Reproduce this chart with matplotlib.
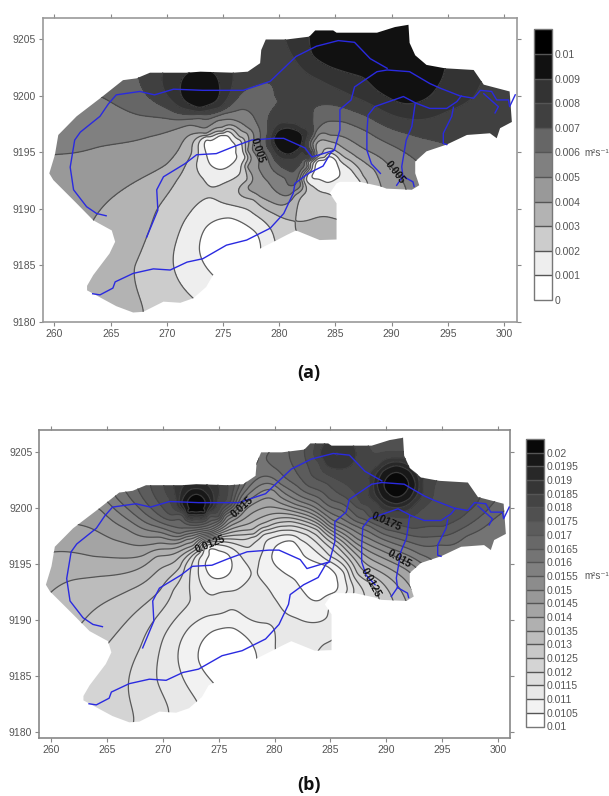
import matplotlib
matplotlib.use("Agg")
import matplotlib.pyplot as plt
from matplotlib.patches import Polygon
from matplotlib.colors import ListedColormap, BoundaryNorm
import numpy as np

plt.rcParams['font.family'] = ['Liberation Sans', 'DejaVu Sans']

# ---------- shared geography (km grid) ----------
BASIN = [(259.54,9193.15),(260.04,9194.8),(260.34,9196.55),(261.97,9198.2),(264.2,9199.9),(266.1,9201.4),
 (267.3,9201.56),(268.5,9202.06),(271.76,9202.06),(273,9202.15),(275.9,9202.06),(277.2,9202.15),(278.3,9202.9),
 (278.4,9204.07),(278.8,9205),(280.65,9205),(282.67,9205.25),(283.2,9205.8),(284.8,9205.8),(285.1,9205.6),
 (288.7,9205.6),(290.3,9206.1),(291.5,9206.3),(291.6,9204.7),(292.1,9203.6),(293.1,9202.75),(294.75,9202.45),
 (297.3,9202.3),(298.2,9201),(300.5,9200.4),(300.7,9197.7),(299.65,9197.15),(299.35,9196.26),(298.75,9196.7),
 (296.7,9196.55),(294.9,9195.7),(293.1,9195.1),(292.1,9194.2),(292.1,9193.16),(292.46,9192.1),(291.8,9191.7),
 (289.55,9191.8),(289,9192),(287.2,9192.4),(285.4,9192.4),(285.1,9192.27),(284.5,9191.4),(285.1,9190.5),
 (285.1,9187.3),(283.6,9187.25),(281.5,9188.1),(280.67,9187.7),(279.8,9187.25),(278.3,9186.5),(275.9,9185),
 (274.1,9184.15),(273.5,9183.1),(272.35,9182.1),(271.2,9181.7),(269.7,9181.8),(267.9,9180.9),(267,9180.84),
 (265.5,9181.4),(262.9,9182.8),(262.9,9183.2),(263.45,9184.15),(264.9,9186.06),(265.4,9187.1),(265.1,9188.1),
 (263.45,9189),(261.97,9190.5),(259.9,9192.56)]

RIVER_MAIN = [(263.4,9182.5),(264.05,9182.4),(265.2,9183),(265.4,9183.55),(267,9184.3),(268.8,9184.7),(270.3,9184.6),
 (271.8,9185.3),(273.2,9185.6),(275.3,9186.8),(277.1,9187.25),(279.2,9188.3),(280.4,9189.6),(281.25,9191.4),
 (281.4,9192.27),(282.6,9193.15),(283.9,9193.8),(284.6,9195),(284.9,9195.2),(285.4,9197),(285.4,9198.8),
 (286.4,9199.65),(286.7,9200.8),(288.7,9202.15),(289.6,9202.3),(291.6,9202.15),(293.4,9201.1),(294.3,9200.7),
 (296.1,9200),(297.3,9199.8),(297.9,9200.5),(298.9,9200.4),(299.35,9199.65),(300.4,9199.65),(300.5,9199.06),
 (301,9200.1)]
RIVER_WEST = [(284.9,9195.2),(283.9,9194.9),(282.9,9194.6),(282.3,9195.4),(280.4,9196.25),(279.5,9196.25),
 (277.55,9196.1),(275.9,9195.5),(274.4,9194.9),(272.65,9194.8),(271.6,9194),(269.7,9192.85),(269.1,9191.7),
 (269.2,9189.9),(268.2,9187.5)]
RIVER_NORTH = [(264.6,9189.4),(263.75,9189.6),(262.86,9190.2),(261.7,9191.7),(261.4,9193.7),(261.8,9196.1),
 (262.3,9196.8),(264.05,9198.2),(264.8,9199.3),(265.5,9200.1),(267.6,9200.4),(268.9,9200.1),(270.6,9200.6),
 (273.2,9200.5),(276.8,9200.5),(279.2,9201.3),(281.5,9203.5),(283.3,9204.4),(285.25,9204.9),(286.7,9204.75),
 (288.1,9203.3),(289.6,9202.45)]
RIVER_S1 = [(289,9193.15),(288.2,9194),(287.8,9195.2),(287.8,9196.7),(287.9,9198.3),(288.5,9199.06),(291.05,9199.95),
 (292.2,9199.35),(293.4,9198.9),(294.9,9198.9),(295.8,9199.5),(296.2,9200)]
RIVER_S2 = [(292.1,9199.35),(291.8,9197.3),(291.3,9196.1),(290.9,9193.75),(291,9192.9),(290.45,9192.1)]
RIVER_S3 = [(291,9192.9),(291.9,9192.4),(292,9192)]
RIVER_S4 = [(295.5,9199),(295.35,9198.2),(294.6,9196.7),(294.6,9195.8),(294.9,9195.7)]
RIVER_S5 = [(298.2,9200.2),(299.5,9199.05),(299.2,9198.5)]
RIVERS = [RIVER_MAIN,RIVER_WEST,RIVER_NORTH,RIVER_S1,RIVER_S2,RIVER_S3,RIVER_S4,RIVER_S5]

X_TICKS = [260,265,270,275,280,285,290,295,300]
Y_TICKS = [9180,9185,9190,9195,9200,9205]

# ---------- panel (a): contours ----------
A_LEVELS = [0,.001,.002,.003,.004,.005,.006,.007,.008,.009,.01,.011]
A_TICKS = [0,.001,.002,.003,.004,.005,.006,.007,.008,.009,.01]
A_TICKLABELS = ['0','0.001','0.002','0.003','0.004','0.005','0.006','0.007','0.008','0.009','0.01']
A_COLORS = ['#ffffff','#eeeeee','#cccccc','#b3b3b3','#999999','#808080','#666666','#404040','#333333','#111111','#000000']

A_009_NE = [(282.67,9205.25),(283,9203.6),(284.5,9202.6),(287.5,9201.6),(288.7,9200.5),(291,9199.35),(292.5,9199.5),(294,9200.7),(294.75,9202.45),(295,9204)]
A_009_W = [(271.2,9200.7),(271.7,9199.5),(273,9199),(274.3,9199.5),(274.7,9200.7),(274.3,9201.9),(273,9202.4),(271.7,9201.9)]
A_009_C = [(280.8,9197.15),(279.85,9196.85),(279.5,9196.1),(279.85,9195.35),(280.8,9194.85),(281.75,9195.35),(282.05,9196.1),(281.75,9196.85)]
A_008_N = [(280.5,9205.1),(281.54,9203),(283.6,9201.4),(286.6,9199.95),(289.6,9198.5),(292.5,9197.9),(294.9,9198.6),(297.3,9199.95),(298.5,9202)]
A_008_W = [(269.6,9201.9),(270,9200.1),(271.2,9199),(272.9,9198.6),(274.7,9199),(275.6,9200.2),(275.9,9202),(273,9203.6)]
A_008_C = [(280.8,9197.6),(279.6,9197.2),(279.2,9196.1),(279.6,9195),(280.8,9194.4),(282,9195),(282.4,9196.1),(282,9197.2)]
A_007 = [(267.5,9201.6),(268.2,9200.1),(270,9198.9),(272.9,9198.4),(275.3,9198.95),(276.5,9200.1),(278,9201),(279.2,9201.1),
 (279.6,9200.1),(279.2,9198.5),(279,9197.9),(278.95,9196.7),(279.3,9194.9),(280.4,9193.6),(281.4,9193.45),(282.6,9194.5),
 (282.9,9194.9),(283,9196.7),(283,9198.2),(283.3,9199.07),(285.4,9199.07),(287.8,9198.2),(291.3,9196.7),(294.9,9195.7),(296.5,9194)]
A_006 = [(264.2,9199.9),(267.6,9198.3),(270,9198),(272.9,9198.0),(275,9198.4),(276.6,9198.8),(277.7,9198.2),(278.3,9196.8),
 (278.7,9195),(279.4,9193.5),(280.5,9192.7),(281.7,9192.9),(282.6,9194.2),(282.9,9195.3),(283.2,9196.7),(284.2,9197.7),
 (285.7,9197.7),(287.8,9196.85),(290.3,9195.5),(292.2,9194.25),(293.5,9192)]
A_005 = [(260,9194.8),(264,9195.5),(268.5,9196.4),(272,9197.4),(274.5,9197.8),(276.2,9197.8),(277.2,9197.2),(277.7,9195.9),
 (278.2,9194.2),(279,9192.4),(280.1,9191.3),(281,9191.3),(281.9,9192.2),(282.5,9193.8),(283,9195.8),(284.5,9196.55),
 (286,9196.26),(287.8,9195.2),(289.6,9194.05),(291.2,9192),(291.5,9190)]
A_004 = [(263.45,9189),(264.9,9190.8),(270,9194),(272.6,9196.7),(275.3,9197.4),(277.1,9196.7),(277.2,9195.2),(277.2,9193.7),
 (277.25,9192),(278.3,9191.1),(280.07,9190.35),(281.4,9191.2),(282,9192.6),(282.6,9194.2),(283.3,9195.2),(285.1,9195.8),
 (286.9,9194.6),(288.4,9193.5),(289.1,9191.8),(289,9190)]
A_003_W = [(267.9,9180.9),(267.15,9184.9),(269.1,9189.9),(270.9,9192.56),(272.2,9195),(273.5,9196.5),(275,9196.9),(276.5,9196.4),
 (277,9195.3),(277,9193.5),(277.1,9192.56),(277.7,9190.8),(279.5,9189.6),(281.5,9188.1),(283,9186.5)]
A_003_E = [(282.1,9191.2),(283.6,9189.3),(285.1,9189.1)]
A_003_E2 = [(283.8,9194.9),(285.1,9195.1),(286.3,9194.3),(287.5,9192.9),(287.9,9192),(287.5,9190)]
A_002_S = [(272.35,9182.1),(270.6,9186.06),(272,9189.6),(274.4,9190.8),(277.7,9189.6),(279.6,9187.25),(278,9184),(275,9181)]
A_002_W = [(272.65,9194),(273.2,9192.7),(274.7,9192.1),(276.2,9192.85),(276.95,9194.6),(276.5,9196.1),(275.3,9196.85),(273.5,9196.4),(272.8,9195.2)]
A_002_E = [(284.07,9194.6),(285.4,9194.3),(286.4,9193.45),(287.2,9192.4),(287,9191.5),(285.5,9191),(284.2,9191.4),(283,9192),(282.6,9193.15)]
A_001_S = [(274.1,9184.15),(272.9,9186.4),(273.5,9188.4),(275.6,9189.2),(278,9187.8),(278.3,9186.2),(277,9184.5),(275,9183.5)]
A_001_W = [(274.8,9196.5),(273.85,9196.05),(273.47,9195),(273.85,9193.95),(274.8,9193.5),(275.75,9193.95),(276.13,9195),(275.75,9196.05)]
A_001_E = [(284.25,9194.55),(283.45,9194.25),(283.15,9193.45),(283.45,9192.65),(284.25,9192.35),(285.05,9192.65),(285.35,9193.45),(285.05,9194.25)]

A_TRACES = [(.009,A_009_NE),(.009,A_009_W),(.009,A_009_C),(.008,A_008_N),(.008,A_008_W),(.008,A_008_C),(.007,A_007),
 (.006,A_006),(.005,A_005),(.004,A_004),(.003,A_003_W),(.003,A_003_E),(.003,A_003_E2),(.002,A_002_S),(.002,A_002_W),
 (.002,A_002_E),(.001,A_001_S),(.001,A_001_W),(.001,A_001_E)]
A_SPOTS = [(288,9204.5,.0097),(287,9203.4,.0096),(291,9201,.0097),(293,9201,.0095),(273,9200.7,.0097),(280.8,9196.1,.0098),
 (298.5,9198.5,.0075),(296,9197,.0075),(280,9203,.0075),(277.5,9203.5,.0075),(262,9197,.0055),(262,9192.5,.0045),
 (266,9186,.0035),(270,9188,.0025),(275.2,9191.5,.0025),(284,9188,.0035),(282.3,9192.5,.0025),(274.8,9195,.0005),
 (284.25,9193.45,.0005),(276,9186.5,.0005),(258,9178,.004),(303,9178,.004),(258,9208,.007),(303,9208,.0095),
 (303,9190,.006),(285,9178,.003),(258,9190,.0045),(270,9178,.0025)]
A_NOTES = [('0.005',278.1,9195.2,-72),('0.005',290.3,9193.2,-52)]

# ---------- panel (b) ----------
B_LEVELS = [.01,.0105,.011,.0115,.012,.0125,.013,.0135,.014,.0145,.015,.0155,.016,.0165,.017,.0175,.018,.0185,.019,.0195,.02,.0205]
B_TICKS = [.01,.0105,.011,.0115,.012,.0125,.013,.0135,.014,.0145,.015,.0155,.016,.0165,.017,.0175,.018,.0185,.019,.0195,.02]
B_TICKLABELS = ['0.01','0.0105','0.011','0.0115','0.012','0.0125','0.013','0.0135','0.014','0.0145','0.015','0.0155','0.016','0.0165','0.017','0.0175','0.018','0.0185','0.019','0.0195','0.02']
B_COLOR_STEPS = [255,242,232,222,212,200,188,176,164,152,140,128,116,104,92,80,68,54,40,24,8]

B_0105_S = [(274.54,9184.34),(273.2,9186.4),(274.5,9189),(276.3,9189.26),(278.4,9186.4),(277,9184),(275.5,9183.5)]
B_0105_W = [(275,9196.2),(274.15,9195.85),(273.8,9194.95),(274.15,9194.05),(275,9193.7),(275.85,9194.05),(276.2,9194.95),(275.85,9195.85)]
B_0105_E = [(279.75,9195.67),(280.5,9196.86),(281.7,9197),(282.6,9195.8),(284.7,9194.8),(285.6,9193.6),(285.4,9192.5),(284.1,9191.8),(282.7,9192.4),(281.8,9193.6),(280.5,9194.5)]
B_011_S = [(273.05,9182.7),(271.56,9185.5),(272.45,9189.4),(276,9190.9),(279.3,9189.7),(280.07,9187.6),(279.5,9185),(276,9182),(273.5,9181)]
B_011_W = [(273.2,9194.8),(274.5,9192.24),(276.6,9192.7),(277.2,9195.4),(275.7,9196.6),(273.8,9196.6)]
B_011_E = [(278.55,9194.8),(279,9196.3),(280.3,9197.5),(282.3,9197.2),(284.1,9195.8),(286.2,9194.2),(286.5,9192.7),(285.1,9191.5),(284.7,9190.3),(282,9190.15),(279.9,9192.1)]
B_0115 = [(270.5,9182),(269.5,9184.64),(270.1,9188.5),(272.45,9191.8),(272.4,9193.4),(273.05,9195.8),(274.5,9197),(277.66,9196.5),(279,9197.6),(280.5,9198),(282.9,9197.6),(285,9195.7),(286.8,9193.6),(287,9192.1),(286,9189),(284.4,9187.8),(283.5,9186)]
B_012 = [(267.4,9181.06),(266.93,9184.34),(268,9187.6),(270.96,9192.69),(272,9194.8),(273.2,9196.2),(275.5,9197.25),(278,9197.4),(279.1,9198),(281,9198.4),(283.4,9197.8),(285.3,9196.2),(287.1,9193.9),(288,9192.4),(288,9190)]
B_0125 = [(265.1,9187.9),(269.77,9192.7),(271.56,9194.8),(273.05,9196.4),(275.74,9197.5),(278.1,9197.7),(279.3,9198.35),(281.4,9198.8),(283.8,9198.06),(285.57,9196.6),(287.4,9194.2),(288.55,9193.3),(289.3,9192.1),(289.5,9190)]
B_013 = [(262.6,9189.56),(267.1,9192.7),(271.26,9195.4),(272.9,9196.57)]
B_0135 = [(259.9,9192.4),(264.4,9193.9),(269.47,9195.67),(272.75,9196.7)]
B_014 = [(260.4,9196.1),(263.8,9195.7),(268.3,9195.8),(272.45,9196.9)]
B_0145 = [(262.6,9198.5),(265.6,9197.2),(269.2,9196.8),(272.15,9197.2)]
B_015 = [(264.4,9199.85),(266.8,9198.1),(269.8,9197.4),(272.45,9197.5),(274.25,9197.9),(276.3,9199.25),(277.1,9200.1),(278.1,9201),(279.9,9201.6),(280.5,9201.04),(282,9200.3),(285,9198.66),(287.35,9197.3),(289.45,9196.27),(291.2,9195.5),(292.4,9194.9),(294,9193)]
B_016 = [(265.9,9200.9),(268.6,9198.66),(271.56,9197.76),(273.05,9198.06),(275.5,9199.3),(277,9201),(278.3,9202.5),(280.5,9202.2),(282.5,9201),(284.5,9199.9),(287.3,9198.4),(290,9197.1),(293,9195.9),(295,9194)]
B_0165 = [(279.6,9205.2),(280.3,9203.4),(282,9202),(284,9200.9),(286,9199.8),(288.5,9198.4),(290,9197.6),(292,9197.0),(294.8,9196.7),(297.2,9197.5),(299.6,9199),(301.5,9200.5)]
B_017 = [(281.3,9205.3),(281.8,9203.5),(283,9202),(285,9200.8),(287.5,9199.2),(290,9198.1),(292.5,9197.5),(295,9197.5),(297,9198.3),(299,9199.8),(300.5,9201.5)]
B_0175_W = [(268.9,9202.1),(269.5,9200.7),(270.8,9199.4),(273,9198.7),(275,9199.3),(276,9200.5),(276.4,9202),(273,9204)]
B_0175_E = [(282.7,9205.5),(283.3,9203),(284.67,9202.2),(286.45,9200.9),(287.95,9199.85),(290,9198.8),(292.4,9198.2),(295.1,9198.4),(296.6,9199.1),(298.1,9200.45),(299,9202.5)]
B_018_E = [(283.6,9205.5),(284,9204),(285,9202.9),(286.9,9201.7),(287.9,9200.4),(289,9199.4),(290.9,9199.2),(292.8,9199.6),(294,9200.7),(294.5,9202.5),(294,9205)]
B_0185_W = [(271,9202.1),(271.2,9200.7),(272,9199.5),(273,9199.2),(274,9199.5),(274.9,9200.7),(275,9202),(273,9203.2)]
B_0185_N = [(284.1,9204.9),(284.6,9203.9),(285.7,9203.5),(286.9,9203.9),(287.3,9204.9),(285.7,9206.4)]
B_0185_E = [(288.5,9202.1),(289.2,9200.4),(290.9,9199.7),(292.6,9200.4),(293.3,9202.1),(292.6,9203.8),(290.9,9204.5),(289.2,9203.8)]
B_0195_W = [(271.7,9200.45),(272.1,9199.55),(273,9199.4),(273.9,9199.55),(274.3,9200.45),(273.9,9201.35),(273,9201.75),(272.1,9201.35)]
B_0195_E = [(289.2,9202.1),(289.7,9200.9),(290.9,9200.4),(292.1,9200.9),(292.6,9202.1),(292.1,9203.3),(290.9,9203.8),(289.7,9203.3)]
B_02_W = [(272.2,9200.45),(272.45,9199.9),(273,9199.65),(273.55,9199.9),(273.8,9200.45),(273.55,9201),(273,9201.25),(272.45,9201)]
B_02_E = [(289.8,9202.1),(290.15,9201.35),(290.9,9201),(291.65,9201.35),(292,9202.1),(291.65,9202.85),(290.9,9203.2),(290.15,9202.85)]

B_TRACES = [(.0105,B_0105_S),(.0105,B_0105_W),(.0105,B_0105_E),(.011,B_011_S),(.011,B_011_W),(.011,B_011_E),(.0115,B_0115),
 (.012,B_012),(.0125,B_0125),(.013,B_013),(.0135,B_0135),(.014,B_014),(.0145,B_0145),(.015,B_015),(.016,B_016),(.0165,B_0165),
 (.017,B_017),(.0175,B_0175_W),(.0175,B_0175_E),(.018,B_018_E),(.0185,B_0185_W),(.0185,B_0185_N),(.0185,B_0185_E),
 (.0195,B_0195_W),(.0195,B_0195_E),(.02,B_02_W),(.02,B_02_E)]
B_SPOTS = [(273,9200.45,.0203),(290.9,9202.1,.0203),(285.7,9204.8,.019),(275,9194.95,.0102),(281.5,9195.5,.0102),(284.3,9193.3,.0102),
 (275.5,9186.5,.0102),(275.2,9191.6,.0113),(263.5,9183.5,.01235),(265,9185.5,.0123),(262,9193,.0134),(278.2,9191,.0113),(280,9204,.0166),
 (258,9178,.013),(303,9178,.014),(258,9208,.016),(303,9208,.018),(303,9190,.016),(285,9178,.0115),(258,9190,.0135),(270,9178,.0115)]
B_NOTES = [('0.0125',274.2,9196.8,22),('0.015',277.1,9200.1,42),('0.0175',290,9198.8,-24),('0.015',291.2,9195.5,-30),('0.0125',288.6,9193.3,-62)]


def samples(traces, spots):
    seen = {}
    for level, pts in traces:
        for x, y in pts:
            seen[(x, y)] = level
    for x, y, v in spots:
        seen[(x, y)] = v
    pts = np.array(list(seen.keys()))
    return pts[:, 0], pts[:, 1], np.array(list(seen.values()))


def surface(x, y, z, gx, gy, smooth):
    y0 = y - 9190.0
    gy0 = gy - 9190.0
    x0 = x - 280.0
    gx0 = gx - 280.0
    n = len(x)
    r2 = (x0[:, None] - x0[None, :]) ** 2 + (y0[:, None] - y0[None, :]) ** 2
    K = 0.5 * r2 * np.log(np.where(r2 > 0, r2, 1.0))
    P = np.column_stack([np.ones(n), x0, y0])
    A = np.block([[K + smooth * np.eye(n), P], [P.T, np.zeros((3, 3))]])
    sol = np.linalg.solve(A, np.concatenate([z, np.zeros(3)]))
    w, a = sol[:n], sol[n:]
    out = np.empty((gy.size, gx.size))
    for i, v in enumerate(gy0):
        d2 = (gx0[:, None] - x0[None, :]) ** 2 + (v - y0[None, :]) ** 2
        out[i] = (0.5 * d2 * np.log(np.where(d2 > 0, d2, 1.0))) @ w + a[0] + a[1] * gx0 + a[2] * v
    return out


def panel(fig, box, xlim, ylim, traces, spots, levels, colors, notes, cbox, ticks, ticklabels, unit_xy, frame, smooth):
    W, H = 609, 796
    l, t, r, b = box
    ax = fig.add_axes([l / W, 1 - b / H, (r - l) / W, (b - t) / H])
    x, y, z = samples(traces, spots)
    gx = np.linspace(258, 302.5, 360)
    gy = np.linspace(9179, 9207.5, 240)
    gz = np.clip(surface(x, y, z, gx, gy, smooth), levels[0] + 1e-6, levels[-1] - 1e-6)
    cmap = ListedColormap(colors)
    norm = BoundaryNorm(levels, cmap.N)
    cf = ax.contourf(gx, gy, gz, levels=levels, cmap=cmap, norm=norm)
    cl = ax.contour(gx, gy, gz, levels=levels[1:-1], colors='#444444', linewidths=0.9, alpha=0.85)
    clip = Polygon(BASIN, closed=True, transform=ax.transData, fc='none', ec='none')
    ax.add_patch(clip)
    cf.set_clip_path(clip)
    cl.set_clip_path(clip)
    for river in RIVERS:
        rx, ry = zip(*river)
        ax.plot(rx, ry, color='#2a2ae0', lw=1.0, solid_joinstyle='round', zorder=4)
    for text, nx, ny, rot in notes:
        ax.text(nx, ny, text, rotation=rot, rotation_mode='anchor', ha='center', va='center',
                fontsize=7.5, fontweight='bold', color='#111111', zorder=5)
    ax.set_xlim(xlim)
    ax.set_ylim(ylim)
    ax.set_xticks(X_TICKS)
    ax.set_yticks(Y_TICKS)
    ax.tick_params(top=True, right=True, length=3, width=0.8, color='#888888', labelcolor='#555555',
                   labelsize=7.5, pad=2)
    for s in ax.spines.values():
        s.set_color(frame)
        s.set_linewidth(1.2)
    cl_, ct, cr, cb_ = cbox
    cax = fig.add_axes([cl_ / W, 1 - cb_ / H, (cr - cl_) / W, (cb_ - ct) / H])
    cbar = fig.colorbar(cf, cax=cax, drawedges=True, spacing='proportional')
    cbar.set_ticks(ticks)
    cbar.set_ticklabels(ticklabels)
    cbar.ax.minorticks_off()
    cbar.ax.tick_params(length=0, labelsize=7.5, labelcolor='#555555', pad=2)
    cbar.outline.set_edgecolor('#777777')
    cbar.outline.set_linewidth(1)
    cbar.dividers.set_color('#555555')
    cbar.dividers.set_linewidth(1)
    fig.text(unit_xy[0] / W, 1 - unit_xy[1] / H, 'm²s⁻¹', fontsize=7, color='#555555', ha='left', va='center')


fig = plt.figure(figsize=(6.09, 7.96), dpi=100)
panel(fig, (43, 18, 516.7, 322), (258.98, 301.13), (9180, 9206.9), A_TRACES, A_SPOTS, A_LEVELS, A_COLORS, A_NOTES,
      (534, 29.4, 551.7, 300), A_TICKS, A_TICKLABELS, (584, 153), '#999999', 0.002)
B_COLORS = ['#%02x%02x%02x' % (g, g, g) for g in B_COLOR_STEPS]
panel(fig, (39.3, 430, 510, 738.3), (258.95, 301.07), (9179.41, 9207), B_TRACES, B_SPOTS, B_LEVELS, B_COLORS, B_NOTES,
      (526, 439, 544, 726.5), B_TICKS, B_TICKLABELS, (584, 576), '#888888', 0.002)
fig.text(309 / 609, 1 - 373 / 796, '(a)', fontsize=13, fontweight='bold', family='Open Sans', ha='center', va='center', color='#111111')
fig.text(309 / 609, 1 - 785 / 796, '(b)', fontsize=13, fontweight='bold', family='Open Sans', ha='center', va='center', color='#111111')
fig.savefig('out.png', dpi=100)
